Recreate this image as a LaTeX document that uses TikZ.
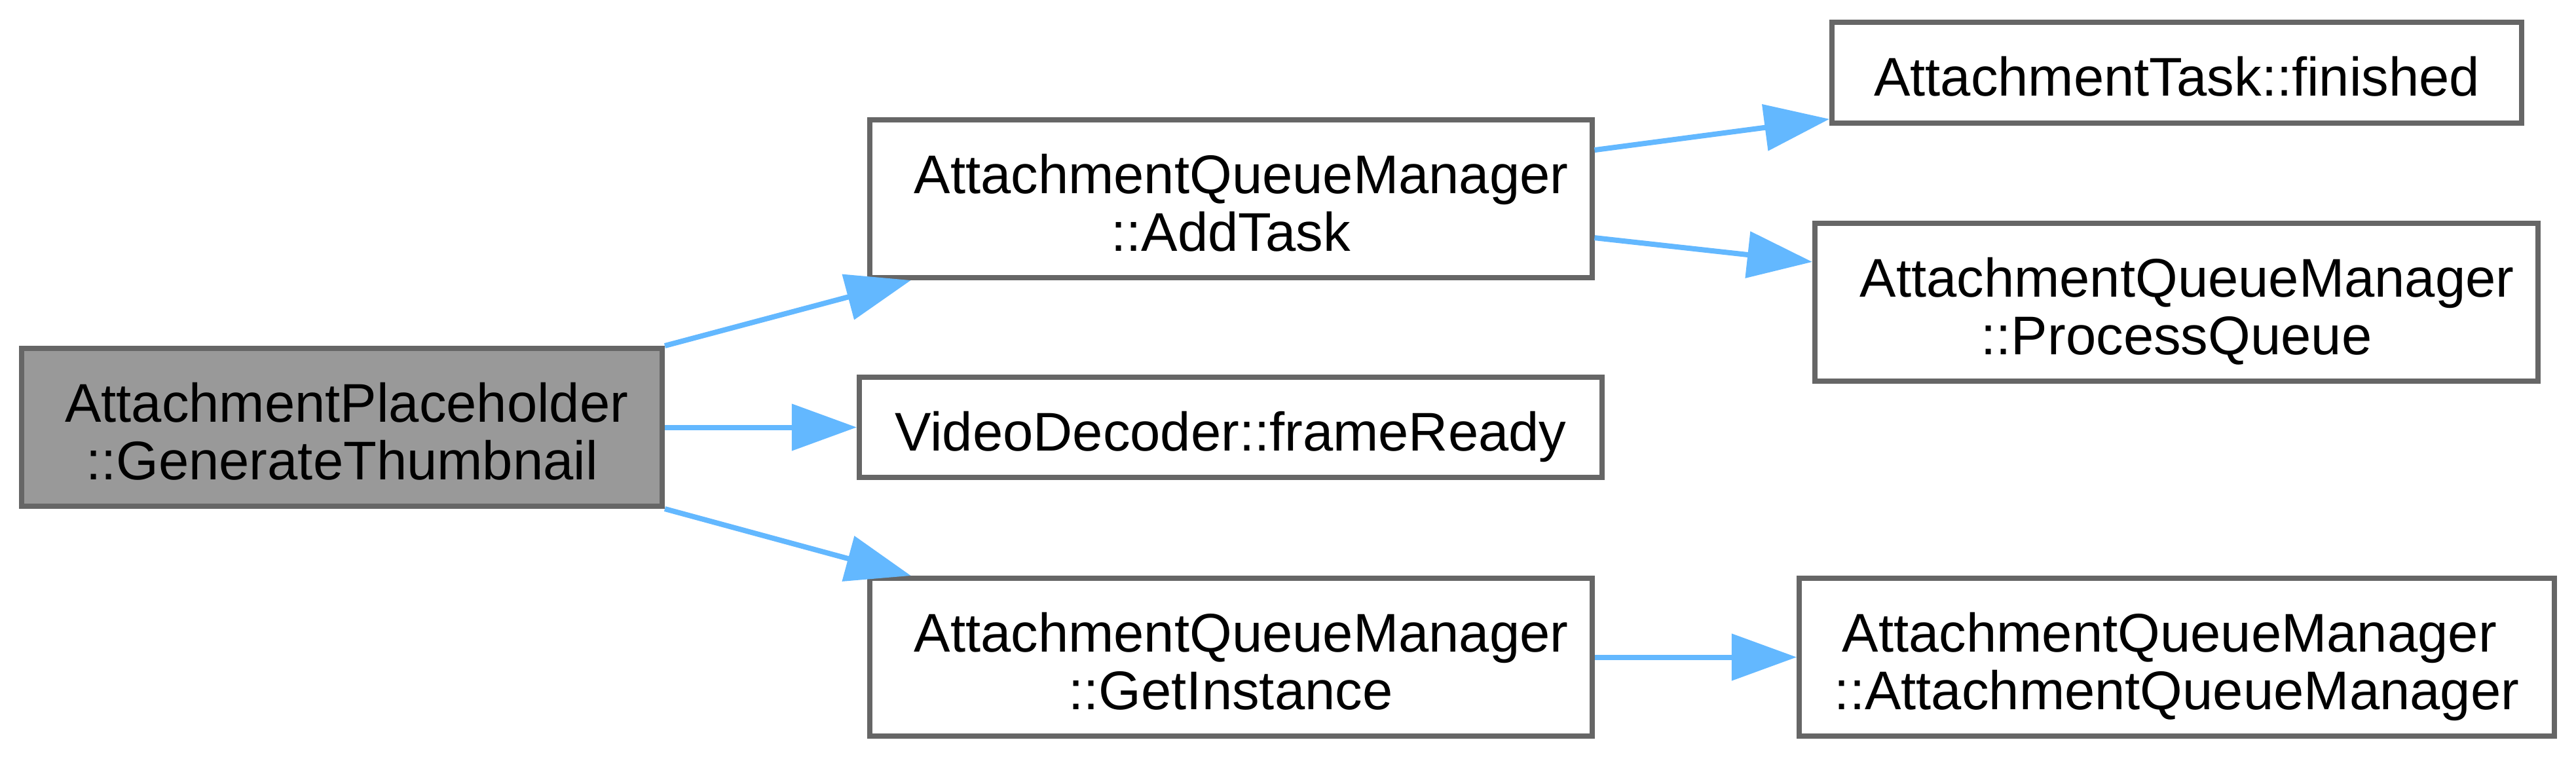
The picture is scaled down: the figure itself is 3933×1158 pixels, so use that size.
\documentclass[tikz,border=0pt]{standalone}
\usepackage{fontspec}
\setmainfont{Liberation Sans}
\usetikzlibrary{arrows.meta}
\definecolor{edgeblue}{HTML}{63B8FF}
\definecolor{boxgray}{HTML}{666666}
\definecolor{fillgray}{HTML}{999999}
\newcommand{\twol}[3]{\rule{0pt}{9.1pt}\kern#1 #2\kern-#1\\\raisebox{0pt}[\height][0pt]{#3}}
\begin{document}
\begin{tikzpicture}[x=0.125pt,y=-0.125pt,
  box/.style={draw=boxgray, line width=1pt, fill=white, inner sep=0pt, align=center,
    font=\fontsize{10.4pt}{11pt}\selectfont},
  onel/.style={box, minimum height=19.2pt, text height=8.9pt, text depth=0pt},
  twobox/.style={box, minimum height=30.125pt},
  calledge/.style={draw=edgeblue, line width=1pt, -{Triangle[length=12.4pt,width=8.75pt]}}]
\path[fill=white, use as bounding box] (0,0) rectangle (3933,1158);

\node[twobox, fill=fillgray, minimum width=122.25pt] (A) at (522,652.5) {\twol{0.9pt}{AttachmentPlaceholder}{::GenerateThumbnail}};
\node[twobox, minimum width=137.875pt] (B) at (1879,303.5) {\twol{2pt}{AttachmentQueueManager}{::AddTask}};
\node[onel, minimum width=141.75pt] (C) at (1879,652.5) {VideoDecoder::frameReady};
\node[twobox, minimum width=137.875pt] (D) at (1879,1003.5) {\twol{2pt}{AttachmentQueueManager}{::GetInstance}};
\node[onel, minimum width=131.6pt] (E) at (3323.5,111) {AttachmentTask::finished};
\node[twobox, minimum width=138pt] (F) at (3323,461.5) {\twol{2pt}{AttachmentQueueManager}{::ProcessQueue}};
\node[twobox, minimum width=144.1pt] (G) at (3323.5,1003.5) {\twol{-1.4pt}{AttachmentQueueManager}{::AttachmentQueueManager}};

\draw[calledge] (A.north east) -- ([xshift=8.4pt]B.south west);
\draw[calledge] (A.east) -- (C.west);
\draw[calledge] (A.south east) -- ([xshift=8.4pt]D.north west);
\draw[calledge] ([yshift=9.3pt]B.east) -- ([yshift=1.25pt]E.south west);
\draw[calledge] ([yshift=-7.45pt]B.east) -- ([yshift=7.7pt]F.west);
\draw[calledge] (D.east) -- (G.west);
\end{tikzpicture}
\end{document}
